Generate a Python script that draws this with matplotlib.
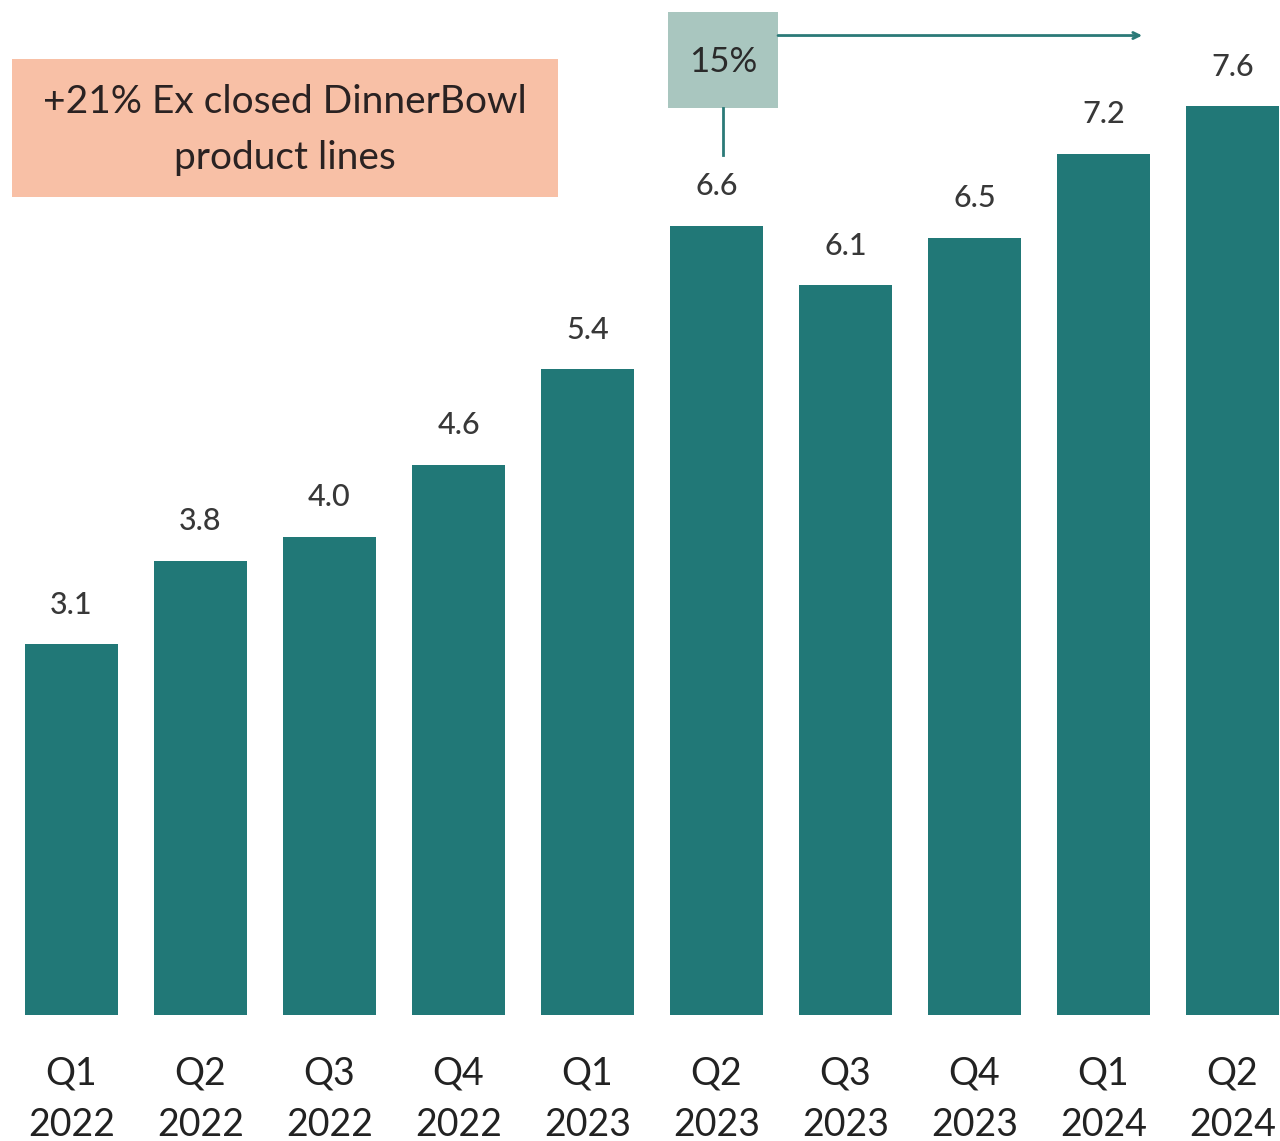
import numpy as np
import matplotlib.pyplot as plt
from matplotlib.patches import Rectangle

plt.rcParams['font.family'] = ['Lato', 'DejaVu Sans']

quarters = ['Q1', 'Q2', 'Q3', 'Q4', 'Q1', 'Q2', 'Q3', 'Q4', 'Q1', 'Q2']
years = ['2022', '2022', '2022', '2022', '2023', '2023', '2023', '2023', '2024', '2024']
values = [3.1, 3.8, 4.0, 4.6, 5.4, 6.6, 6.1, 6.5, 7.2, 7.6]
growth_label = '15%'
note_text = '+21% Ex closed DinnerBowl\nproduct lines'

bar_color = '#217877'
label_color = '#383838'

fig = plt.figure(figsize=(12.8, 11.41), dpi=100)
ax = fig.add_axes([0, 0.1104, 1, 0.8896])

x = np.arange(len(values))
ax.bar(x, values, width=0.72, color=bar_color)
for xi, v in zip(x, values):
    ax.text(xi, v + 0.33, f'{v:.1f}', ha='center', va='center',
            fontsize=22, color=label_color, fontweight='medium')

ax.set_xlim(-0.554, 9.368)
ax.set_ylim(0, 8.487)
ax.set_xticks(x)
ax.set_xticklabels([f'{q}\n{y}' for q, y in zip(quarters, years)],
                   fontsize=27, color='#222222', linespacing=1.55)
ax.tick_params(axis='x', length=0, pad=29)
ax.set_yticks([])
for s in ax.spines.values():
    s.set_visible(False)

# salmon note box, top left
ax.add_patch(Rectangle((-0.46, 6.84), 4.23, 1.15, facecolor='#F8C0A6',
                       edgecolor='none', clip_on=False))
ax.text(1.655, 7.40, note_text, ha='center', va='center', fontsize=28,
        color='#2a2222', linespacing=1.72)

# growth callout box over Q2 2023 with arrow to Q1 2024
ax.add_patch(Rectangle((4.624, 7.584), 0.853, 0.802, facecolor='#A9C6BF',
                       edgecolor='none'))
ax.text(5.05, 7.97, growth_label, ha='center', va='center', fontsize=25,
        color='#2a2a2a')
ax.plot([5.05, 5.05], [7.584, 7.19], color='#2b7a78', lw=2)
ax.annotate('', xy=(8.30, 8.19), xytext=(5.477, 8.19),
            arrowprops=dict(arrowstyle='->,head_length=0.45,head_width=0.22',
                            color='#2b7a78', lw=2, shrinkA=0, shrinkB=0))

fig.savefig('out.png', dpi=100, facecolor='white')
